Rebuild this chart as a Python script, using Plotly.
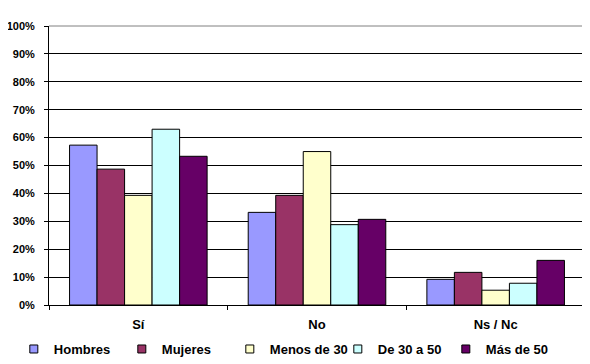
import plotly.graph_objects as go

categories = ["Sí", "No", "Ns / Nc"]
series_names = ["Hombres", "Mujeres", "Menos de 30", "De 30 a 50", "Más de 50"]
hombres = [57.3, 33.2, 9.2]
mujeres = [48.7, 39.3, 11.7]
menos_30 = [39.3, 55.0, 5.3]
de_30_a_50 = [63.0, 28.8, 7.8]
mas_50 = [53.3, 30.7, 16.0]
y_ticks = [0, 10, 20, 30, 40, 50, 60, 70, 80, 90, 100]
y_tick_labels = [f"{v}%" for v in y_ticks]

series_values = [hombres, mujeres, menos_30, de_30_a_50, mas_50]
colors = ["#9999FF", "#993366", "#FFFFCC", "#CCFFFF", "#660066"]

font_family = "Liberation Sans, Arial, sans-serif"

fig = go.Figure()
for name, vals, col in zip(series_names, series_values, colors):
    fig.add_trace(go.Bar(
        x=categories, y=vals, name=name, legendgroup=name, showlegend=False,
        marker=dict(color=col, line=dict(color="black", width=1)),
    ))
# legend entries with small square keys
for name, col in zip(series_names, colors):
    fig.add_trace(go.Scatter(
        x=[None], y=[None], mode="markers", name=name, legendgroup=name,
        marker=dict(symbol="square", size=8, color=col, line=dict(color="black", width=1)),
    ))

# page body has an 8px margin, so the figure is sized to fit the 590x364 window
fig.update_layout(
    width=582, height=356,
    margin=dict(l=41, r=5, t=18, b=59),
    paper_bgcolor="white", plot_bgcolor="white",
    barmode="group", bargap=0.23, bargroupgap=0,
    font=dict(family=font_family, size=11, color="black"),
    showlegend=True,
    legend=dict(
        orientation="h", xref="container", yref="container",
        x=0.01, xanchor="left", y=0.042, yanchor="middle",
        font=dict(family=font_family, size=13, color="black", weight="bold"),
        itemwidth=30, traceorder="normal",
        entrywidth=63, entrywidthmode="pixels",
    ),
    xaxis=dict(
        showline=True, linecolor="black", linewidth=1,
        ticks="outside", ticklen=4, tickcolor="black", tickson="boundaries",
        tickfont=dict(family=font_family, size=13, color="black", weight="bold"),
        ticklabelstandoff=7,
        showgrid=False, automargin=False,
    ),
    yaxis=dict(
        range=[0, 100], tickvals=y_ticks, ticktext=y_tick_labels,
        showline=True, linecolor="black", linewidth=1,
        ticks="outside", ticklen=4, tickcolor="black",
        showgrid=True, gridcolor="black", gridwidth=1,
        zeroline=False, automargin=False, ticklabelstandoff=7,
        tickfont=dict(family=font_family, size=11, color="black", weight="bold"),
    ),
    shapes=[
        dict(type="line", xref="paper", yref="paper", x0=0, x1=1, y0=1, y1=1,
             line=dict(color="#808080", width=1), layer="above"),
        dict(type="line", xref="paper", yref="paper", x0=1, x1=1, y0=0, y1=1,
             line=dict(color="#808080", width=1), layer="above"),
    ],
)

fig.write_html("out.html")
